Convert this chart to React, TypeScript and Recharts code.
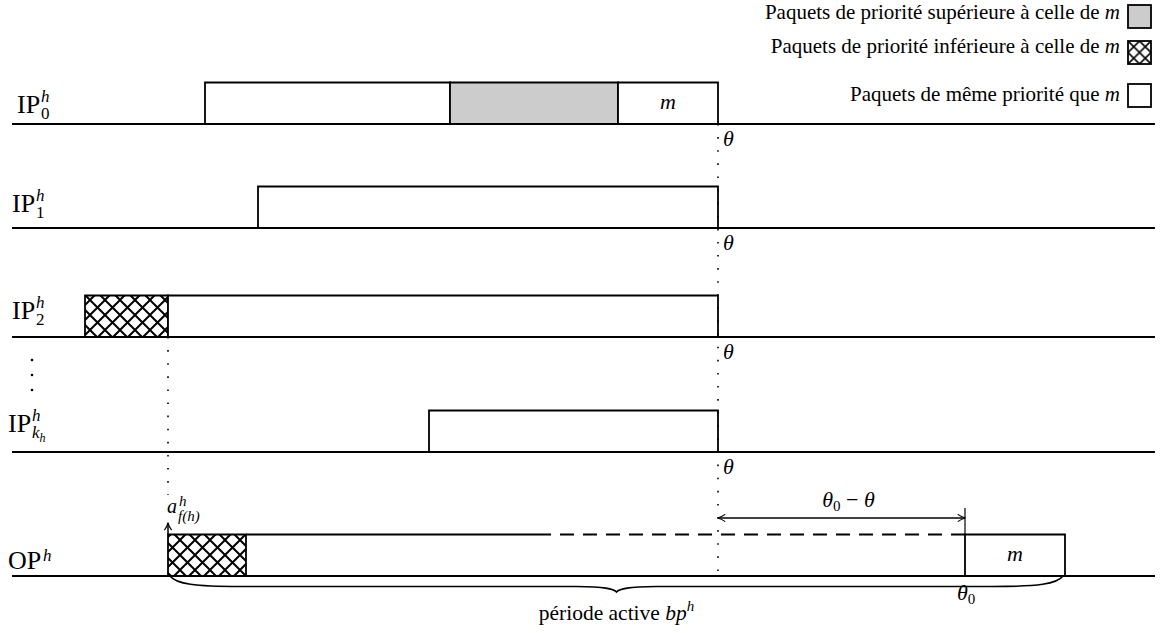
import React from 'react';
import { ComposedChart, XAxis, YAxis, ReferenceArea, ReferenceLine, ReferenceDot } from 'recharts';

// time axis in arbitrary units, lanes are read top to bottom
type Kind = 'higher' | 'lower' | 'same';
interface Packet { start: number; end: number; kind: Kind; name?: string }

const laneNames = ['IP0', 'IP1', 'IP2', 'IPk', 'OP'];

const ip0Packets: Packet[] = [
  { start: 19.5, end: 44.0, kind: 'same' },
  { start: 44.0, end: 60.8, kind: 'higher' },
  { start: 60.8, end: 70.8, kind: 'same', name: 'm' },
];
const ip1Packets: Packet[] = [{ start: 24.8, end: 70.8, kind: 'same' }];
const ip2Packets: Packet[] = [
  { start: 7.5, end: 15.8, kind: 'lower' },
  { start: 15.8, end: 70.8, kind: 'same' },
];
const ipkPackets: Packet[] = [{ start: 41.9, end: 70.8, kind: 'same' }];
const opPackets: Packet[] = [
  { start: 15.8, end: 23.6, kind: 'lower' },
  { start: 95.5, end: 105.5, kind: 'same', name: 'm' },
];
const lanePackets = [ip0Packets, ip1Packets, ip2Packets, ipkPackets, opPackets];

const opBusyKnown = [23.6, 52.7];
const opBusyUnknown = [52.7, 95.5];
const theta = 70.8;
const theta0 = 95.5;
const arrival = 15.8;
const busyPeriod = [16.0, 105.3];
const timeRange = [0.2, 114.5];

const legendItems: { text: string; kind: Kind }[] = [
  { text: 'Paquets de priorité supérieure à celle de ', kind: 'higher' },
  { text: 'Paquets de priorité inférieure à celle de ', kind: 'lower' },
  { text: 'Paquets de même priorité que ', kind: 'same' },
];

// layout (y axis is "depth" from the top)
const laneBase = [12.4, 22.8, 33.7, 45.2, 57.6];
const BOX_H = 4.15;
const SERIF = '"Liberation Serif", "DejaVu Serif", serif';

const fillOf = (k: Kind) => (k === 'higher' ? '#cccccc' : k === 'lower' ? 'url(#xhatch)' : '#ffffff');

const laneLabel = (main: string, mainW: number, sup: string, sub: React.ReactNode, supDy: number) => (p: any) => {
  const { x, y } = p.viewBox;
  return (
    <g fontFamily={SERIF} fill="#000">
      <text x={x} y={y} fontSize={26}>{main}</text>
      <text x={x + mainW + 1} y={y + supDy} fontSize={17} fontStyle="italic">{sup}</text>
      {sub && <text x={x + mainW + 1} y={y + 6} fontSize={17}>{sub}</text>}
    </g>
  );
};

const laneLabels = [
  { t: 0.7, y: 11.3, render: laneLabel('IP', 23, 'h', '0', -11) },
  { t: 0.2, y: 21.2, render: laneLabel('IP', 23, 'h', '1', -11) },
  { t: 0.2, y: 31.9, render: laneLabel('IP', 23, 'h', '2', -11) },
  {
    t: -0.2, y: 43.2,
    render: laneLabel('IP', 23, 'h', <tspan fontStyle="italic">k<tspan fontSize={12} dy={4}>h</tspan></tspan>, -11),
  },
  { t: -0.2, y: 56.9, render: laneLabel('OP', 34, 'h', null, -8) },
];

const italic = (s: string, size: number, anchor: 'start' | 'middle' = 'start') => (p: any) => (
  <text x={p.viewBox.x} y={p.viewBox.y} fontFamily={SERIF} fontSize={size} fontStyle="italic" textAnchor={anchor}
    dominantBaseline={anchor === 'middle' ? 'central' : 'auto'}>{s}</text>
);

const Brace = (p: any) => {
  const { x, y, width } = p;
  const xl = x, xr = x + width, xm = x + width / 2, b = y + 10.5, tip = y + 16;
  const d = `M${xl},${y} C${xl + 6},${y + 8} ${xl + 25},${b} ${xl + 70},${b} L${xm - 40},${b} C${xm - 12},${b + 0.5} ${xm - 3},${b + 2} ${xm},${tip}`
    + ` C${xm + 3},${b + 2} ${xm + 12},${b + 0.5} ${xm + 40},${b} L${xr - 70},${b} C${xr - 25},${b} ${xr - 6},${y + 8} ${xr},${y}`;
  return <path d={d} fill="none" stroke="#000" strokeWidth={1.6} />;
};

const arrowLine = (both: boolean) => (p: any) => (
  <line x1={p.x1} y1={p.y1} x2={p.x2} y2={p.y2} stroke="#000" strokeWidth={1.5}
    markerEnd="url(#arrowHead)" markerStart={both ? 'url(#arrowHead)' : undefined} />
);

const Legend = () => (
  <svg width={1160} height={120} style={{ position: 'absolute', left: 0, top: 0 }}>
    <defs>
      <pattern id="legendHatch" patternUnits="userSpaceOnUse" x={1128} y={41} width={11.5} height={11.5}>
        <rect width={11.5} height={11.5} fill="#fff" />
        <path d="M0,0 L11.5,11.5 M11.5,0 L0,11.5" stroke="#000" strokeWidth={1.6} />
      </pattern>
    </defs>
    {legendItems.map((it, i) => {
      const base = [19, 53, 101][i];
      const top = [5, 41, 84][i];
      return (
        <g key={it.kind}>
          <text x={1120} y={base} textAnchor="end" fontFamily={SERIF} fontSize={21}>
            {it.text}<tspan fontStyle="italic" fontSize={21}>m</tspan>
          </text>
          <rect x={1128} y={top} width={23} height={23} stroke="#000" strokeWidth={1.8}
            fill={it.kind === 'lower' ? 'url(#legendHatch)' : fillOf(it.kind)} />
        </g>
      );
    })}
  </svg>
);

export default function App() {
  return (
    <div style={{ position: 'absolute', left: 0, top: 0, width: 1160, height: 633, background: '#fff' }}>
      <ComposedChart width={1160} height={633} margin={{ top: 0, right: 0, bottom: 0, left: 10 }}>
        <defs>
          <pattern id="xhatch" patternUnits="userSpaceOnUse" width={15} height={15}>
            <rect width={15} height={15} fill="#fff" />
            <path d="M0,0 L15,15 M15,0 L0,15" stroke="#000" strokeWidth={2} />
          </pattern>
          <marker id="arrowHead" viewBox="0 0 10 10" refX={9} refY={5} markerWidth={9} markerHeight={9}
            markerUnits="userSpaceOnUse" orient="auto-start-reverse">
            <path d="M1,1 Q5,4 9.5,5 Q5,6 1,9" fill="none" stroke="#000" strokeWidth={1.3} />
          </marker>
        </defs>
        <XAxis type="number" dataKey="t" domain={[0, 115]} allowDataOverflow hide />
        <YAxis type="number" domain={[0, 63.3]} reversed allowDataOverflow hide />

        {/* dotted guides */}
        <ReferenceLine ifOverflow="visible" segment={[{ x: theta, y: laneBase[0] }, { x: theta, y: laneBase[4] }]}
          stroke="#000" strokeWidth={1.6} strokeDasharray="1.6 11.5" />
        <ReferenceLine ifOverflow="visible" segment={[{ x: arrival, y: laneBase[2] }, { x: arrival, y: 49.5 }]}
          stroke="#000" strokeWidth={1.6} strokeDasharray="1.6 11.5" />

        {/* packets */}
        {lanePackets.map((packets, li) =>
          packets.map((pk, pi) => (
            <ReferenceArea key={`${laneNames[li]}-${pi}`} ifOverflow="visible"
              x1={pk.start} x2={pk.end} y1={laneBase[li] - BOX_H} y2={laneBase[li]}
              fill={fillOf(pk.kind)} fillOpacity={1} stroke="#000" strokeWidth={1.8} />
          ))
        )}
        {lanePackets.map((packets, li) =>
          packets.filter((pk) => pk.name).map((pk, pi) => (
            <ReferenceDot key={`${laneNames[li]}-n${pi}`} ifOverflow="visible" r={0}
              x={(pk.start + pk.end) / 2} y={laneBase[li] - BOX_H / 2 - 0.15}
              label={{ content: italic(pk.name as string, 22, 'middle') }} />
          ))
        )}

        {/* OP busy period top edge: known then unknown part */}
        <ReferenceLine ifOverflow="visible" segment={[{ x: opBusyKnown[0], y: laneBase[4] - BOX_H }, { x: opBusyKnown[1], y: laneBase[4] - BOX_H }]}
          stroke="#000" strokeWidth={1.8} />
        <ReferenceLine ifOverflow="visible" segment={[{ x: opBusyUnknown[0], y: laneBase[4] - BOX_H }, { x: opBusyUnknown[1], y: laneBase[4] - BOX_H }]}
          stroke="#000" strokeWidth={1.8} strokeDasharray="14 9" />

        {/* baselines */}
        {laneBase.map((b, i) => (
          <ReferenceLine key={`base-${laneNames[i]}`} ifOverflow="visible"
            segment={[{ x: timeRange[0], y: b }, { x: timeRange[1], y: b }]} stroke="#000" strokeWidth={2} />
        ))}

        {/* lane labels */}
        {laneLabels.map((l, i) => (
          <ReferenceDot key={`lab-${laneNames[i]}`} ifOverflow="visible" r={0} x={l.t} y={l.y} label={{ content: l.render }} />
        ))}
        <ReferenceDot ifOverflow="visible" r={0} x={2.2} y={36.0} label={{
          content: (p: any) => (
            <g fill="#000">
              {[0, 15, 30].map((d) => <circle key={d} cx={p.viewBox.x} cy={p.viewBox.y + d} r={1.3} />)}
            </g>
          ),
        }} />

        {/* theta marks */}
        {laneBase.slice(0, 4).map((b, i) => (
          <ReferenceDot key={`th-${i}`} ifOverflow="visible" r={0} x={theta + 0.5} y={b + 2.2}
            label={{ content: italic('θ', 22) }} />
        ))}

        {/* arrival of the first packet */}
        <ReferenceLine ifOverflow="visible" segment={[{ x: arrival, y: laneBase[4] - BOX_H }, { x: arrival, y: 52.3 }]}
          shape={arrowLine(false)} />
        <ReferenceDot ifOverflow="visible" r={0} x={arrival - 0.1} y={51.3} label={{
          content: (p: any) => (
            <g fontFamily={SERIF} fontStyle="italic" fill="#000">
              <text x={p.viewBox.x} y={p.viewBox.y} fontSize={20}>a</text>
              <text x={p.viewBox.x + 12} y={p.viewBox.y - 7} fontSize={15}>h</text>
              <text x={p.viewBox.x + 11} y={p.viewBox.y + 8} fontSize={15}>f(h)</text>
            </g>
          ),
        }} />

        {/* theta0 - theta */}
        <ReferenceLine ifOverflow="visible" segment={[{ x: theta, y: 51.8 }, { x: theta0, y: 51.8 }]} shape={arrowLine(true)} />
        <ReferenceLine ifOverflow="visible" segment={[{ x: theta0, y: 50.8 }, { x: theta0, y: laneBase[4] - BOX_H }]}
          stroke="#000" strokeWidth={1.2} />
        <ReferenceDot ifOverflow="visible" r={0} x={(theta + theta0) / 2 + 0.7} y={50.7} label={{
          content: (p: any) => (
            <text x={p.viewBox.x} y={p.viewBox.y} fontFamily={SERIF} fontSize={22} textAnchor="middle">
              <tspan fontStyle="italic">θ</tspan><tspan fontSize={15} dy={4}>0</tspan>
              <tspan dy={-4}>{' − '}</tspan><tspan fontStyle="italic">θ</tspan>
            </text>
          ),
        }} />
        <ReferenceDot ifOverflow="visible" r={0} x={theta0 - 0.8} y={60.0} label={{
          content: (p: any) => (
            <text x={p.viewBox.x} y={p.viewBox.y} fontFamily={SERIF} fontSize={22}>
              <tspan fontStyle="italic">θ</tspan><tspan fontSize={15} dy={4}>0</tspan>
            </text>
          ),
        }} />

        {/* busy period brace */}
        <ReferenceArea ifOverflow="visible" x1={busyPeriod[0]} x2={busyPeriod[1]} y1={laneBase[4]} y2={laneBase[4] + 1.6}
          shape={Brace} />
        <ReferenceDot ifOverflow="visible" r={0} x={(busyPeriod[0] + busyPeriod[1]) / 2} y={62.0} label={{
          content: (p: any) => (
            <text x={p.viewBox.x} y={p.viewBox.y} fontFamily={SERIF} fontSize={21.5} textAnchor="middle">
              {'période active '}<tspan fontStyle="italic">bp</tspan><tspan fontStyle="italic" fontSize={15} dy={-9}>h</tspan>
            </text>
          ),
        }} />
      </ComposedChart>
      <Legend />
    </div>
  );
}
